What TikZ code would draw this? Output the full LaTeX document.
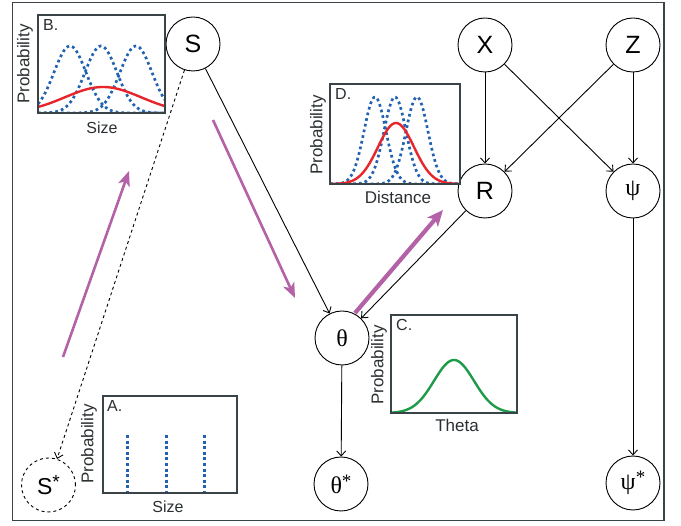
\documentclass[tikz,border=0pt]{standalone}
\usepackage{fontspec}
\setmainfont{Liberation Sans}
\newfontfamily\grk{Liberation Serif}
\usetikzlibrary{arrows.meta}
\definecolor{purp}{HTML}{B462A8}
\definecolor{dblue}{HTML}{2262B0}
\definecolor{cred}{HTML}{E8252B}
\definecolor{cgreen}{HTML}{1E9B48}
\definecolor{framec}{HTML}{3A4448}
\definecolor{txt}{HTML}{2A2F31}
\newcommand{\astx}{\raisebox{0.25em}{\fontsize{19}{19}\selectfont *}}
\begin{document}
\begin{tikzpicture}[x=1pt,y=-1pt,
  var/.style={circle, draw, line width=0.9pt, minimum size=54pt, inner sep=0pt, font=\fontsize{25}{25}\selectfont},
  gvar/.style={var, font=\grk\fontsize{24}{24}\selectfont},
  edge/.style={line width=0.9pt, -{Straight Barb[length=5pt,width=9pt]}},
  bigarrow/.style={purp, line width=2.6pt, -{Stealth[length=15pt,width=12pt,inset=4pt]}},
  panelbox/.style={draw=framec, line width=1.3pt},
  bluedot/.style={dblue, line width=2.7pt, dash pattern=on 2.7pt off 3.1pt},
  redcurve/.style={cred, line width=2.4pt},
  greencurve/.style={cgreen, line width=2.4pt},
  axlab/.style={font=\fontsize{17}{17}\selectfont, text=txt, inner sep=0pt},
  plab/.style={font=\fontsize{16}{16}\selectfont, text=txt, inner sep=0pt, anchor=north west}
]
\useasboundingbox (0,0) rectangle (681,526);
\draw[framec, line width=1.5pt] (12.5,2.5) rectangle (664,520.5);

% ---------- nodes ----------
\node[var] (S) at (193,44) {S};
\node[var] (X) at (485,45) {X};
\node[var] (Z) at (633,45) {Z};
\node[var] (R) at (485,191) {R};
\node[gvar] (psi) at (633,191) {ψ};
\node[gvar] (theta) at (342,338) {θ};
\node[gvar] (thetas) at (341,484) {θ\astx};
\node[gvar] (psis) at (633,483) {ψ\astx};
\node[var, dashed, font=\fontsize{23}{23}\selectfont] (Ss) at (48.5,485) {S\astx};

% ---------- edges ----------
\draw[edge] (S) -- (theta);
\draw[edge, dashed] (S) -- (Ss);
\draw[edge] (X) -- (R);
\draw[edge] (X) -- (psi);
\draw[edge] (Z) -- (R);
\draw[edge] (Z) -- (psi);
\draw[edge] (R) -- (theta);
\draw[edge] (theta) -- (thetas);
\draw[edge] (psi) -- (psis);

% ---------- purple arrows ----------
\coordinate (pa1) at (63,357);
\coordinate (pb1) at (129,171);
\coordinate (pa2) at (213,120);
\coordinate (pb2) at (295,298);
\coordinate (pa3) at (355,313);
\coordinate (pb3) at (443,210);
\draw[bigarrow] (pa1) -- (pb1);
\draw[bigarrow] (pa2) -- (pb2);
\draw[bigarrow, line width=4.2pt, -{Stealth[length=16pt,width=14pt,inset=4pt]}] (pa3) -- (pb3);

% ---------- panel B ----------
\begin{scope}
\clip (38,15) rectangle (165,113);
\foreach \m in {70,101,136}{
  \draw[bluedot, domain=38:165, samples=90] plot (\x, {113-67*exp(-((\x-\m)^2)/(2*16^2))});
}
\draw[redcurve, domain=38:165, samples=60] plot (\x, {113-26*exp(-((\x-103)^2)/(2*38^2))});
\end{scope}
\draw[panelbox] (38,15) rectangle (165,113);
\node[plab] (labB) at (43,19) {B.};
\node[axlab, rotate=90] (yB) at (25,64) {Probability};
\node[axlab, font=\fontsize{16}{16}\selectfont] (xB) at (102,128) {Size};

% ---------- panel D ----------
\begin{scope}
\clip (330,84) rectangle (460,184);
\foreach \m in {375,395,417}{
  \draw[bluedot, domain=330:460, samples=110] plot (\x, {184-87*exp(-((\x-\m)^2)/(2*11^2))});
}
\draw[redcurve, domain=330:460, samples=80] plot (\x, {184-61*exp(-((\x-396)^2)/(2*18^2))});
\end{scope}
\draw[panelbox] (330,84) rectangle (460,184);
\node[plab] (labD) at (335,88) {D.};
\node[axlab, rotate=90] (yD) at (318,135) {Probability};
\node[axlab] (xD) at (398,197) {Distance};

% ---------- panel C ----------
\begin{scope}
\clip (391,315) rectangle (517,413);
\draw[greencurve, domain=391:517, samples=80] plot (\x, {413-53*exp(-((\x-454)^2)/(2*20^2))});
\end{scope}
\draw[panelbox] (391,315) rectangle (517,413);
\node[plab] (labC) at (396,319) {C.};
\node[axlab, rotate=90] (yC) at (379,365) {Probability};
\node[axlab] (xC) at (457,425) {Theta};

% ---------- panel A ----------
\foreach \xx in {127,166,204}{
  \draw[dblue, line width=3pt, dash pattern=on 3pt off 2.6pt] (\xx,435) -- (\xx,493);
}
\draw[panelbox] (103,396) rectangle (237,493);
\node[plab] (labA) at (107,400) {A.};
\node[axlab, rotate=90] (yA) at (89,444) {Probability};
\node[axlab, font=\fontsize{16}{16}\selectfont] (xA) at (168,507) {Size};
\end{tikzpicture}
\end{document}
